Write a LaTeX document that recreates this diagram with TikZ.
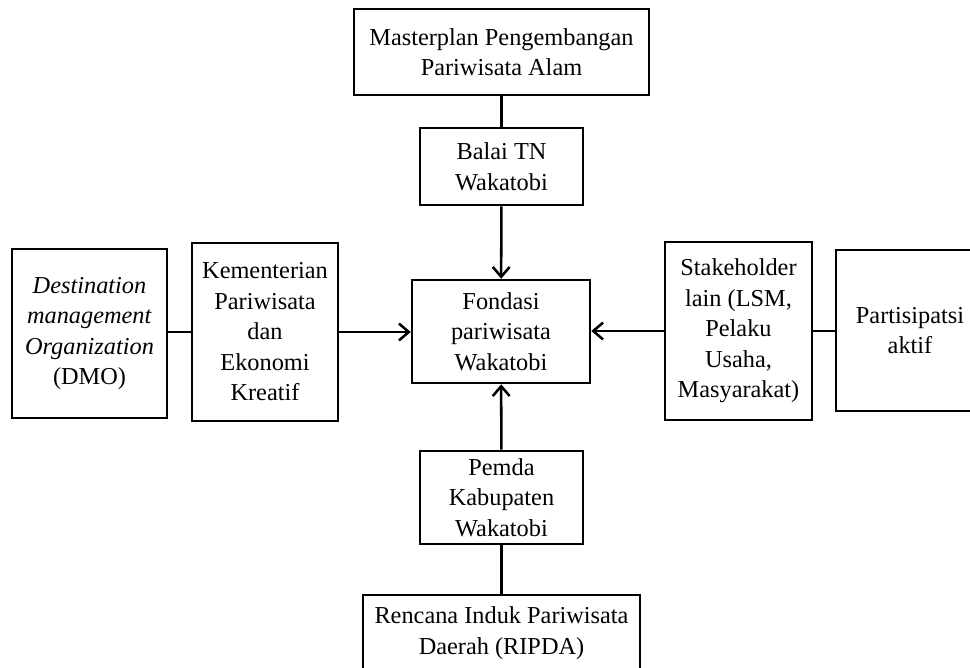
\documentclass[tikz,border=0pt]{standalone}
\usepackage{fontspec}
\setmainfont{Liberation Serif}
\usetikzlibrary{arrows.meta}

\begin{document}
\begin{tikzpicture}[x=0.025cm, y=-0.025cm, line width=1.8pt,
	box/.style 2 args={draw, align=center, inner sep=0pt, minimum width=#1*0.025cm, minimum height=#2*0.025cm, font=\fontsize{17.3}{21.7}\selectfont},
	arr/.style={-{Straight Barb[length=7pt, width=12pt, line width=1.8pt]}}]
		\useasboundingbox (0,0) rectangle (970,668);
		
		%middle column
		\node (master) at (501.5, 52) [box={295}{86}]{Masterplan Pengembangan\\Pariwisata Alam};
		\node (balai) at (501.5, 166.5) [box={163}{77}]{Balai TN\\Wakatobi};
		\node (fondasi) at (501, 331.5) [box={178}{103}]{Fondasi\\pariwisata\\Wakatobi};
		\node (pemda) at (501.5, 497.5) [box={163}{93}]{Pemda\\Kabupaten\\Wakatobi};
		\node (ripda) at (501.5, 633) [box={277}{76}]{Rencana Induk Pariwisata\\Daerah (RIPDA)};
		
		%left side
		\node (dmo) at (89.5, 333.5) [box={155}{169}]{\textit{Destination}\\\textit{management}\\\textit{Organization}\\(DMO)};
		\node (kemenpar) at (265, 332) [box={146}{178}]{Kementerian\\Pariwisata\\dan\\Ekonomi\\Kreatif};
		
		%right side
		\node (stakeholder) at (738.5, 331) [box={147}{178}]{Stakeholder\\lain (LSM,\\Pelaku\\Usaha,\\Masyarakat)};
		\node (partisipasi) at (910, 330.5) [box={148}{161}]{Partisipatsi\\aktif};
		
		\draw (master) -- (balai);
		\draw[arr] (balai) -- (fondasi);
		\draw (ripda) -- (pemda);
		\draw[arr] (pemda) -- (fondasi);
		\draw (dmo.east |- kemenpar.east) -- (kemenpar.east -| kemenpar.west);
		\draw[arr] (kemenpar.east) -- (kemenpar.east -| fondasi.west);
		\draw (partisipasi.west |- stakeholder.east) -- (stakeholder.east);
		\draw[arr] (stakeholder.west) -- (stakeholder.west -| fondasi.east);
\end{tikzpicture}
\end{document}
